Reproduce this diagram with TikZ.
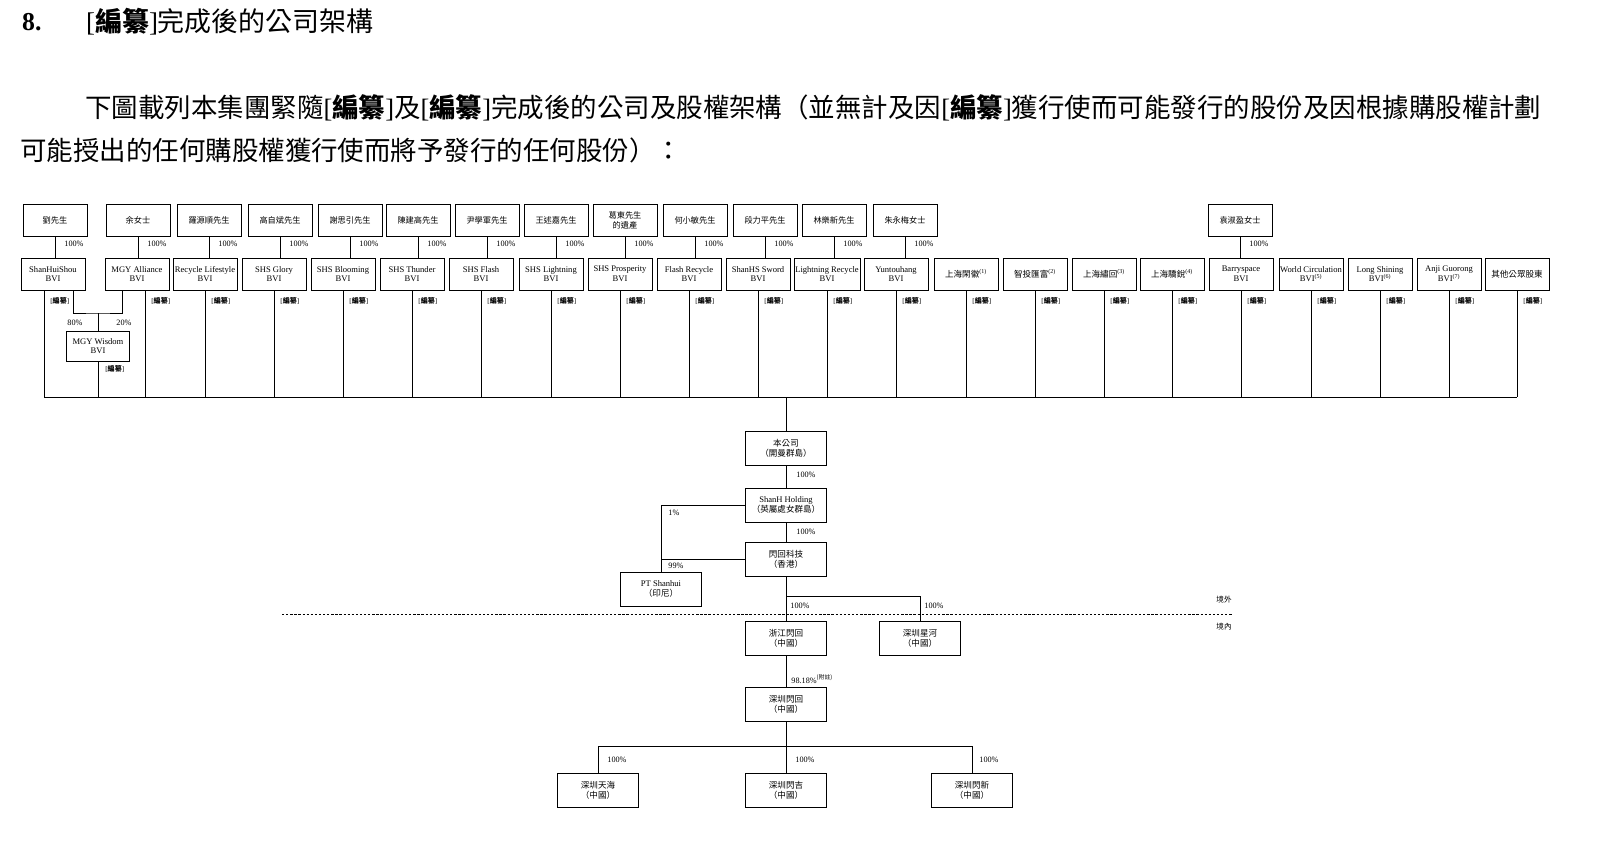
\documentclass[tikz,border=0pt]{standalone}
\usepackage{fontspec}
\setmainfont{Liberation Serif}
\newfontfamily\cjk{Noto Sans CJK TC}
\usetikzlibrary{calc}
\newcommand{\CJ}[1]{{\cjk #1}}
\newcommand{\BZ}{[\CJ{\textbf{編纂}}]}
\begin{document}
\begin{tikzpicture}[x=0.03cm,y=-0.03cm,
  box/.style={draw,line width=0.6pt,minimum width=1.92cm,minimum height=0.96cm,inner sep=1pt,align=center,font=\fontsize{7.3}{8.3}\selectfont},
  pct/.style={font=\fontsize{7}{7.5}\selectfont,anchor=west,inner sep=1pt},
  bz/.style={font=\fontsize{6}{6.5}\selectfont,anchor=west,inner sep=1pt},
  ln/.style={line width=0.6pt}]
\useasboundingbox (0,0) rectangle (1607,843);
% title
\node[anchor=west,font=\fontsize{22}{24}\selectfont\bfseries] (tn) at (18,22) {8.};
\node[anchor=west,font=\fontsize{23}{26}\selectfont] (tt) at (82,22) {[\CJ{\textbf{編纂}}]\CJ{完成後的公司架構}};
\node[anchor=west,font=\fontsize{22.6}{26}\selectfont,inner sep=0] (p1) at (85,108) {\CJ{下圖載列本集團緊隨}[\CJ{\textbf{編纂}}]\CJ{及}[\CJ{\textbf{編纂}}]\CJ{完成後的公司及股權架構（並無計及因}[\CJ{\textbf{編纂}}]\CJ{獲行使而可能發行的股份及因根據購股權計劃}};
\node[anchor=west,font=\fontsize{22.6}{26}\selectfont,inner sep=0] (p2) at (20,150) {\CJ{可能授出的任何購股權獲行使而將予發行的任何股份）：}};
% top row
\foreach \k/\px/\lab in {1/55/劉先生,2/138/余女士,3/209/羅源順先生,4/280/高自斌先生,5/350/謝思引先生,6/418/陳建高先生,7/487/尹學軍先生,8/556/王述嘉先生,9/625/{葛東先生\\的遺產},10/695/何小敏先生,11/765/段力平先生,12/834/林樂新先生,13/905/朱永梅女士,18/1240/袁淑盈女士}
  {\node[box,font=\cjk\fontsize{7}{8.5}\selectfont] (t\k) at (\px,220) {\lab};}
% second row
\foreach \k/\px/\lab in {1/53/{ShanHuiShou\\BVI},2/137/{MGY Alliance\\BVI},3/205/{Recycle Lifestyle\\BVI},4/274/{SHS Glory\\BVI},5/343/{SHS Blooming\\BVI},6/412/{SHS Thunder\\BVI},7/481/{SHS Flash\\BVI},8/551/{SHS Lightning\\BVI},9/620/{SHS Prosperity\\BVI},10/689/{Flash Recycle\\BVI},11/758/{ShanHS Sword\\BVI},12/827/{Lightning Recycle\\BVI},13/896/{Yuntouhang\\BVI},14/966/{\CJ{上海閑徽}\textsuperscript{(1)}},15/1035/{\CJ{智投匯富}\textsuperscript{(2)}},16/1104/{\CJ{上海繡回}\textsuperscript{(3)}},17/1172/{\CJ{上海驕銳}\textsuperscript{(4)}},18/1241/{Barryspace\\BVI},19/1311/{World Circulation\\BVI\textsuperscript{(5)}},20/1380/{Long Shining\\BVI\textsuperscript{(6)}},21/1449/{Anji Guorong\\BVI\textsuperscript{(7)}},22/1517/{\CJ{其他公眾股東}}}
  {\node[box] (s\k) at (\px,274) {\lab};}
% top-to-second links
\foreach \k in {1,2,3,4,5,6,7,8,9,10,11,12,13,18}{
  \draw[ln] (t\k.south) -- (t\k.south |- s\k.north);
  \node[pct] at ($(t\k.south)+(8,7)$) {100\%};
}
% bus
\coordinate (busL) at (44,397);
\coordinate (busR) at (1517,397);
\draw[ln] (busL) -- (busR);
% MGY wisdom
\node[box,minimum width=1.89cm,minimum height=0.9cm] (w) at (98,346) {MGY Wisdom\\BVI};
\coordinate (a1) at (44,290); \coordinate (a2) at (73,290); \coordinate (a3) at (122,290); \coordinate (a4) at (145,290);
\coordinate (wm) at (98,313);
\draw[ln] (a1) -- (a1 |- busL);
\draw[ln] (a4) -- (a4 |- busL);
\draw[ln] (a2) |- (wm) -| (a3);
\draw[ln] (wm) -- (w.north);
\draw[ln] (w.south) -- (w.south |- busL);
\node[pct] at (66,323) {80\%};
\node[pct] at (115,323) {20\%};
\node[bz] at (49,301) {\BZ};
\node[bz] at (150,301) {\BZ};
\node[bz] at (104,369) {\BZ};
\foreach \k in {3,...,22}{
  \draw[ln] (s\k.south) -- (s\k.south |- busL);
  \node[bz] at ($(s\k.south)+(5,11)$) {\BZ};
}
% chain
\tikzset{cb/.style={box,minimum width=2.43cm,minimum height=1.02cm}}
\node[cb] (co) at (786,448) {\CJ{本公司}\\\CJ{（開曼群島）}};
\node[cb] (sh) at (786,505) {ShanH Holding\\\CJ{（英屬處女群島）}};
\node[cb] (hk) at (786,559) {\CJ{閃回科技}\\\CJ{（香港）}};
\node[cb] (pt) at (661,589) {PT Shanhui\\\CJ{（印尼）}};
\node[cb] (zj) at (786,638) {\CJ{浙江閃回}\\\CJ{（中國）}};
\node[cb] (xh) at (920,638) {\CJ{深圳星河}\\\CJ{（中國）}};
\node[cb] (sz) at (786,704) {\CJ{深圳閃回}\\\CJ{（中國）}};
\node[cb] (th) at (598,790) {\CJ{深圳天海}\\\CJ{（中國）}};
\node[cb] (sj) at (786,790) {\CJ{深圳閃吉}\\\CJ{（中國）}};
\node[cb] (sx) at (972,790) {\CJ{深圳閃新}\\\CJ{（中國）}};
\draw[ln] (co.north |- busL) -- (co.north);
\draw[ln] (co.south) -- (sh.north);
\node[pct] at (795,475) {100\%};
\draw[ln] (sh.south) -- (hk.north);
\node[pct] at (795,532) {100\%};
\draw[ln] (sh.west) -| (pt.north);
\draw[ln] (hk.west) -- (hk.west -| pt.north);
\node[pct] at (667,513) {1\%};
\node[pct] at (667,566) {99\%};
\draw[ln] (hk.south) -- (zj.north);
\coordinate (br) at (786,596);
\draw[ln] (br) -| (xh.north);
\node[pct] at (789,606) {100\%};
\node[pct] at (923,606) {100\%};
\coordinate (dl) at (282,614); \coordinate (dr) at (1233,614);
\draw[line width=0.7pt,dash pattern=on 2pt off 1.5pt] (dl) -- (dr);
\node[font=\cjk\fontsize{6.5}{7}\selectfont,inner sep=0] (jw) at (1224,600) {境外};
\node[font=\cjk\fontsize{6.5}{7}\selectfont,inner sep=0] (jn) at (1224,627) {境內};
\draw[ln] (zj.south) -- (sz.north);
\node[pct] at (790,679) {98.18\%\textsuperscript{\CJ{(附註)}}};
\coordinate (bb) at (786,746);
\draw[ln] (sz.south) -- (bb);
\draw[ln] (th.north) |- (bb) -| (sx.north);
\draw[ln] (bb) -- (sj.north);
\node[pct] at (606,760) {100\%};
\node[pct] at (794,760) {100\%};
\node[pct] at (978,760) {100\%};
\end{tikzpicture}
\end{document}
